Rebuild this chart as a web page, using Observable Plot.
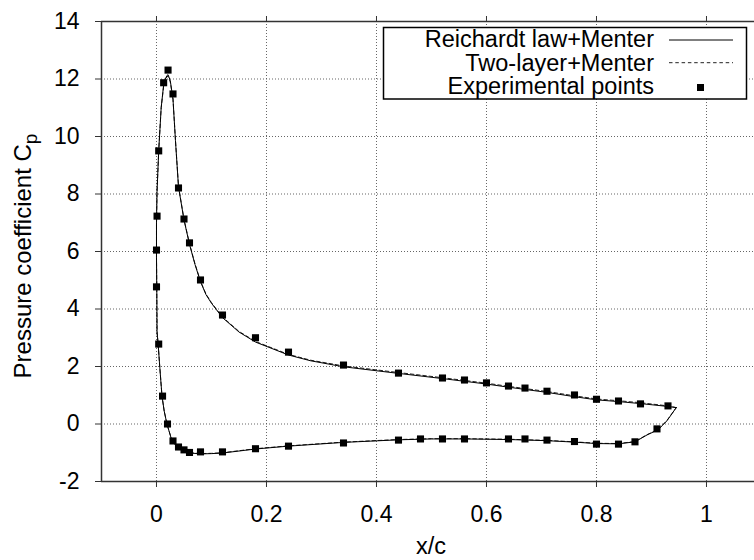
<!DOCTYPE html>
<html><head><meta charset="utf-8">
<script src="https://cdn.jsdelivr.net/npm/d3@7"></script>
<script src="https://cdn.jsdelivr.net/npm/@observablehq/plot@0.6"></script>
<style>
html,body{margin:0;padding:0;background:#fff;overflow:hidden}
#chart{position:relative;width:754px;height:560px}
</style></head><body><div id="chart"></div>
<script>
// Experimental points
const expX = [0.93, 0.88, 0.84, 0.80, 0.76, 0.71, 0.67, 0.64, 0.60, 0.56, 0.52, 0.44, 0.34, 0.24, 0.18, 0.12, 0.08, 0.06, 0.05, 0.04, 0.03, 0.021, 0.013, 0.004, 0.001, 0.0, 0.0, 0.004, 0.011, 0.02, 0.03, 0.04, 0.05, 0.06, 0.08, 0.12, 0.18, 0.24, 0.34, 0.44, 0.48, 0.52, 0.56, 0.64, 0.67, 0.71, 0.76, 0.80, 0.84, 0.87, 0.91];
const expCp = [0.63, 0.70, 0.80, 0.86, 1.01, 1.14, 1.25, 1.32, 1.43, 1.53, 1.60, 1.77, 2.05, 2.50, 3.00, 3.79, 5.01, 6.30, 7.13, 8.21, 11.48, 12.31, 11.87, 9.50, 7.23, 6.05, 4.77, 2.78, 0.97, 0.0, -0.59, -0.80, -0.90, -0.99, -0.97, -0.97, -0.86, -0.77, -0.66, -0.56, -0.52, -0.52, -0.52, -0.52, -0.52, -0.56, -0.61, -0.70, -0.70, -0.62, -0.17];

// Reichardt law + Menter (solid)
const reichX = [0.945, 0.93, 0.88, 0.84, 0.80, 0.76, 0.71, 0.64, 0.60, 0.52, 0.44, 0.34, 0.28, 0.24, 0.18, 0.15, 0.12, 0.10, 0.09, 0.08, 0.07, 0.06, 0.05, 0.04, 0.0345, 0.03, 0.025, 0.021, 0.019, 0.016, 0.013, 0.0085, 0.004, 0.001, 0.0, 0.0, 0.0005, 0.001, 0.003, 0.006, 0.010, 0.014, 0.019, 0.028, 0.038, 0.050, 0.062, 0.08, 0.10, 0.12, 0.18, 0.24, 0.34, 0.44, 0.50, 0.56, 0.64, 0.71, 0.76, 0.80, 0.84, 0.87, 0.892, 0.912, 0.928, 0.937, 0.945];
const reichCp = [0.57, 0.61, 0.71, 0.78, 0.84, 0.95, 1.10, 1.28, 1.39, 1.58, 1.76, 1.99, 2.20, 2.40, 2.85, 3.20, 3.70, 4.20, 4.50, 4.95, 5.55, 6.25, 7.10, 8.25, 9.85, 11.3, 11.95, 12.15, 12.12, 12.0, 11.8, 11.0, 9.5, 8.1, 7.0, 5.8, 4.77, 3.2, 2.78, 1.97, 0.97, 0.45, 0.0, -0.58, -0.81, -0.95, -1.01, -1.04, -1.03, -1.01, -0.87, -0.77, -0.64, -0.55, -0.52, -0.52, -0.54, -0.58, -0.63, -0.68, -0.69, -0.62, -0.38, -0.20, 0.11, 0.35, 0.57];

// Two-layer + Menter (dashed)
const twoX = [0.945, 0.93, 0.88, 0.84, 0.80, 0.76, 0.71, 0.64, 0.60, 0.52, 0.44, 0.34, 0.28, 0.24, 0.18, 0.15, 0.12, 0.10, 0.09, 0.08, 0.07, 0.06, 0.05, 0.04, 0.0345, 0.03, 0.025, 0.021, 0.019, 0.016, 0.013, 0.0085, 0.004, 0.001, 0.0, 0.0, 0.0005, 0.001, 0.003, 0.006, 0.010, 0.014, 0.019, 0.028, 0.038, 0.050, 0.062, 0.08, 0.10, 0.12, 0.18, 0.24, 0.34, 0.44, 0.50, 0.56, 0.64, 0.71, 0.76, 0.80, 0.84, 0.87, 0.892, 0.912, 0.928, 0.937, 0.945];
const twoCp = [0.57, 0.63, 0.74, 0.81, 0.87, 0.98, 1.13, 1.31, 1.42, 1.61, 1.79, 2.02, 2.22, 2.42, 2.87, 3.22, 3.72, 4.22, 4.52, 4.97, 5.57, 6.27, 7.12, 8.27, 9.87, 11.3, 11.9, 12.1, 12.08, 11.95, 11.75, 11.0, 9.5, 8.1, 7.0, 5.8, 4.77, 3.2, 2.78, 1.97, 0.97, 0.45, 0.0, -0.57, -0.80, -0.94, -1.00, -1.03, -1.02, -1.00, -0.86, -0.76, -0.63, -0.54, -0.51, -0.51, -0.53, -0.57, -0.62, -0.67, -0.68, -0.61, -0.37, -0.19, 0.12, 0.36, 0.57];

const xTicks = [0, 0.2, 0.4, 0.6, 0.8, 1];
const yTicks = [-2, 0, 2, 4, 6, 8, 10, 12, 14];
const seriesNames = ["Reichardt law+Menter", "Two-layer+Menter", "Experimental points"];
const xLabel = "x/c";
const yLabel = "Pressure coefficient C";
const yLabelSub = "p";

const exp = expX.map((x, i) => ({x, cp: expCp[i]}));
const reich = reichX.map((x, i) => ({x, cp: reichCp[i]}));
const two = twoX.map((x, i) => ({x, cp: twoCp[i]}));

const font = "'Liberation Sans', Arial, Helvetica, sans-serif";
const gridStyle = {stroke: "#555", strokeOpacity: 0.9, strokeWidth: 1, strokeDasharray: "1,2"};

const plot = Plot.plot({
  width: 754, height: 560,
  marginLeft: 101, marginTop: 21, marginRight: 0, marginBottom: 79,
  style: {fontFamily: font, fontSize: "23px", background: "#fff", color: "#000", overflow: "visible"},
  x: {domain: [-0.1, 1.0873]},
  y: {domain: [-2, 14]},
  marks: [
    Plot.gridX(xTicks, gridStyle),
    Plot.gridY(yTicks, gridStyle),
    Plot.ruleY([-2, 14], {stroke: "#333", strokeWidth: 1.5}),
    Plot.ruleX([-0.1], {stroke: "#333", strokeWidth: 1.5}),
    Plot.axisX(xTicks, {anchor: "bottom", tickSize: 6, tickPadding: 18, stroke: "#333", tickFormat: d => String(d), label: null}),
    Plot.axisX(xTicks, {anchor: "top", tickSize: 6, stroke: "#333", fill: "none", label: null}),
    Plot.axisY(yTicks, {anchor: "left", tickSize: 6, tickPadding: 16, stroke: "#333", tickFormat: d => String(d), label: null}),
    Plot.line(two, {x: "x", y: "cp", stroke: "#222", strokeWidth: 1, strokeDasharray: "3.5,2.8"}),
    Plot.line(reich, {x: "x", y: "cp", stroke: "#000", strokeWidth: 1}),
    Plot.dot(exp, {x: "x", y: "cp", symbol: "square", r: 4, fill: "#000", stroke: "none"})
  ]
});

document.getElementById("chart").appendChild(plot);

const svg = d3.select(plot);
const xs = plot.scale("x"), ys = plot.scale("y");

// axis titles
svg.append("text")
  .attr("x", xs.apply(0.5)).attr("y", 554)
  .attr("text-anchor", "middle").attr("fill", "#000")
  .style("font-family", font).style("font-size", "23.5px")
  .text(xLabel);

const yt = svg.append("text")
  .attr("transform", `translate(31,${ys.apply(6) + 5}) rotate(-90)`)
  .attr("text-anchor", "middle").attr("fill", "#000")
  .style("font-family", font).style("font-size", "24px");
yt.append("tspan").text(yLabel);
yt.append("tspan").attr("dy", "0.3em").style("font-size", "19px").text(yLabelSub);

// legend
const lg = svg.append("g").style("font-family", font).style("font-size", "23.5px");
lg.append("rect").attr("x", 383.5).attr("y", 27.5).attr("width", 363).attr("height", 71.5)
  .attr("fill", "#fff").attr("stroke", "#000").attr("stroke-width", 1.5);
const rowsBase = [47.3, 70.5, 94];
const rowsMid = [40, 62.7, 87.5];
seriesNames.forEach((name, i) => {
  lg.append("text").attr("x", 654).attr("y", rowsBase[i]).attr("text-anchor", "end").attr("fill", "#000").text(name);
});
lg.append("line").attr("x1", 669).attr("x2", 733).attr("y1", rowsMid[0]).attr("y2", rowsMid[0]).attr("stroke", "#000").attr("stroke-width", 1);
lg.append("line").attr("x1", 669).attr("x2", 733).attr("y1", rowsMid[1]).attr("y2", rowsMid[1]).attr("stroke", "#222").attr("stroke-width", 1).attr("stroke-dasharray", "3.5,2.8");
lg.append("rect").attr("x", 700.5 - 3.5).attr("y", rowsMid[2] - 3.5).attr("width", 7).attr("height", 7).attr("fill", "#000");
</script>
</body></html>
